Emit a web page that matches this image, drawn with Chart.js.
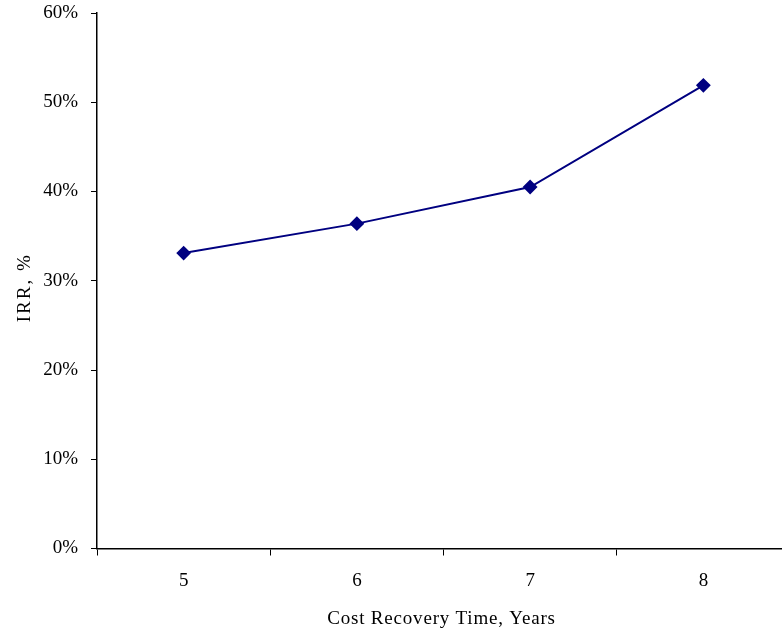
<!DOCTYPE html>
<html>
<head>
<meta charset="utf-8">
<script src="https://cdn.jsdelivr.net/npm/chart.js@4/dist/chart.umd.min.js"></script>
<style>
  html, body { margin: 0; padding: 0; background: #fff; overflow: hidden; }
  #wrap { width: 800px; height: 632px; }
</style>
</head>
<body>
<div id="wrap"><canvas id="irr" width="800" height="632"></canvas></div>
<script>
// cost recovery time (years) vs internal rate of return (%)
const years = ['5', '6', '7', '8'];
const irrPct = [33.1, 36.4, 40.5, 51.9];
const yTicks = [0, 10, 20, 30, 40, 50, 60];

const serif = '"Liberation Serif", "Times New Roman", serif';
const navy = '#000080';

// axis titles: letter-spaced and nudged a few px off the axis centre
function spacedTitle(scale, spacing, dx, dy) {
  if (scale._spaced) return;
  const orig = scale.drawTitle;
  scale.drawTitle = function () {
    this.ctx.save();
    this.ctx.letterSpacing = spacing;
    this.ctx.translate(dx, dy);
    orig.call(this);
    this.ctx.restore();
  };
  scale._spaced = true;
}

const chartData = {
  labels: years,
  datasets: [
    {
      label: 'IRR',
      data: irrPct,
      borderColor: navy,
      backgroundColor: navy,
      borderWidth: 2,
      pointStyle: 'rectRot',
      pointRadius: 6,
      pointHoverRadius: 6,
      tension: 0,
    },
  ],
};

const chartConfig = {
  type: 'line',
  data: chartData,
  options: {
    responsive: false,
    animation: false,
    layout: { padding: { top: 13, left: 0, right: 10, bottom: 0 } },
    plugins: { legend: { display: false }, tooltip: { enabled: false } },
    scales: {
      x: {
        offset: true,
        grid: {
          offset: true,
          drawOnChartArea: false,
          drawTicks: true,
          tickLength: 7,
          tickColor: '#000',
          tickWidth: 1,
        },
        border: { color: '#000', width: 1.5 },
        ticks: { color: '#000', font: { family: serif, size: 19 }, padding: 14 },
        title: {
          display: true,
          text: 'Cost Recovery Time, Years',
          color: '#000',
          font: { family: serif, size: 19 },
          padding: { top: 0, bottom: 3 },
        },
        afterFit: scale => {
          scale.height = 83.5;
          spacedTitle(scale, '0.8px', -2, 1);
        },
      },
      y: {
        min: 0,
        max: 60,
        afterBuildTicks: scale => { scale.ticks = yTicks.map(v => ({ value: v })); },
        grid: {
          drawOnChartArea: false,
          drawTicks: true,
          tickLength: 6,
          tickColor: '#000',
        },
        border: { color: '#000', width: 1.5 },
        ticks: {
          color: '#000',
          font: { family: serif, size: 19 },
          padding: 13,
          callback: v => v + '%',
        },
        title: {
          display: true,
          text: 'IRR, %',
          color: '#000',
          font: { family: serif, size: 19 },
          padding: { top: 12, bottom: 0 },
        },
        afterFit: scale => {
          scale.width = 97;
          scale.paddingTop = 0;
          scale.paddingBottom = 0;
          spacedTitle(scale, '2px', 2, 7);
        },
      },
    },
  },
};

new Chart(document.getElementById('irr'), chartConfig);
</script>
</body>
</html>
